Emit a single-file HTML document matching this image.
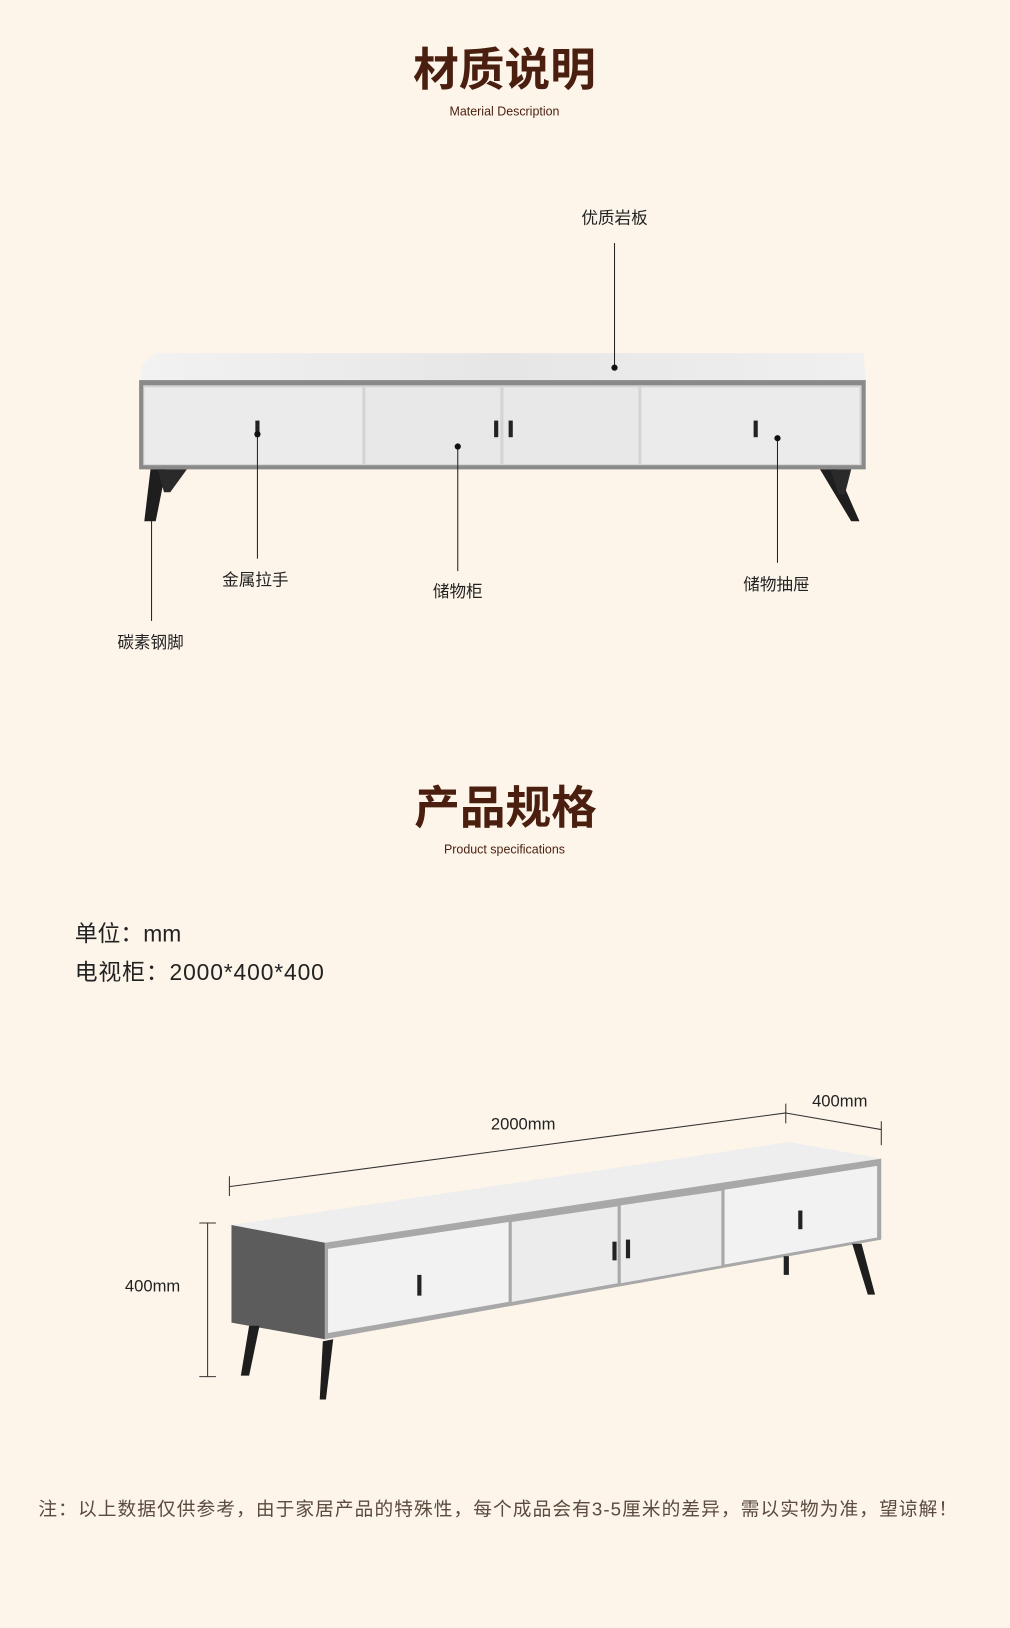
<!DOCTYPE html>
<html><head><meta charset="utf-8"><style>
html,body{margin:0;padding:0;background:#fdf5ea;}
svg{display:block}
text{font-family:"Liberation Sans","Noto Sans CJK SC",sans-serif;}
</style></head><body>
<svg width="1010" height="1628" viewBox="0 0 973 1568" xmlns="http://www.w3.org/2000/svg">
<rect width="973" height="1568" fill="#fdf5ea"/>
<defs>
<linearGradient id="top" x1="0" y1="0" x2="1" y2="0"><stop offset="0" stop-color="#f2f2f2"/><stop offset="0.5" stop-color="#e6e6e6"/><stop offset="1" stop-color="#f0f0f0"/></linearGradient>
</defs>
<text x="486" y="82" text-anchor="middle" font-size="44" font-weight="bold" fill="#4a1f0f">材质说明</text>
<text x="486" y="111" text-anchor="middle" font-size="12" fill="#4a1f0f">Material Description</text>

<polygon points="137,351 150,340 832,340 834,367 135,367" fill="url(#top)"/>
<rect x="134" y="366" width="700" height="86" fill="#8a8a8a"/>
<rect x="138" y="371" width="692" height="77" fill="#d4d4d4"/>
<rect x="139" y="373" width="210" height="74" fill="#ebebeb"/>
<rect x="352" y="373" width="130" height="74" fill="#e8e8e8"/>
<rect x="485" y="373" width="130" height="74" fill="#e8e8e8"/>
<rect x="618" y="373" width="210" height="74" fill="#ebebeb"/>
<rect x="246" y="405" width="4" height="16" fill="#222"/>
<rect x="476" y="405" width="4" height="16" fill="#222"/>
<rect x="490" y="405" width="4" height="16" fill="#222"/>
<rect x="726" y="405" width="4" height="16" fill="#222"/>
<polygon points="145,452 160,452 150,502 139,502" fill="#1e1e1e"/>
<polygon points="152,452 180,452 164,474 158,474" fill="#2a2a2a"/>
<polygon points="790,452 806,452 828,502 820,502" fill="#1e1e1e"/>
<polygon points="800,452 820,452 814,476 808,476" fill="#2a2a2a"/>
<g stroke="#222" stroke-width="1">
<line x1="592" y1="234" x2="592" y2="354"/>
<line x1="248" y1="418" x2="248" y2="538"/>
<line x1="441" y1="430" x2="441" y2="550"/>
<line x1="749" y1="422" x2="749" y2="542"/>
<line x1="146" y1="500" x2="146" y2="598"/>
</g>
<g fill="#111"><circle cx="592" cy="354" r="3"/><circle cx="248" cy="418" r="3"/><circle cx="441" cy="430" r="3"/><circle cx="749" cy="422" r="3"/></g>
<g font-size="16" fill="#222" text-anchor="middle">
<text x="592" y="215">优质岩板</text>
<text x="246" y="564">金属拉手</text>
<text x="441" y="575">储物柜</text>
<text x="748" y="568">储物抽屉</text>
<text x="145" y="624">碳素钢脚</text>
</g>

<text x="487" y="793" text-anchor="middle" font-size="44" font-weight="bold" fill="#4a1f0f">产品规格</text>
<text x="486" y="822" text-anchor="middle" font-size="12" fill="#4a1f0f">Product specifications</text>
<text x="72" y="907" font-size="22" fill="#222">单位：mm</text>
<text x="72" y="944" font-size="22" fill="#222" textLength="240">电视柜：2000*400*400</text>

<polygon points="223,1180 760,1100 849,1116 313,1197" fill="#eeeeee"/>
<polygon points="223,1180 313,1197 313,1290 223,1274" fill="#5c5c5c"/>
<polygon points="313,1197 849,1116 849,1194 313,1290" fill="#a8a8a8"/>
<polygon points="316,1203 490,1177 490,1254 316,1284" fill="#f2f2f2"/>
<polygon points="493,1177 595,1162 595,1236 493,1254" fill="#ececec"/>
<polygon points="598,1161 695,1147 695,1219 598,1236" fill="#ececec"/>
<polygon points="698,1146 845,1123 845,1192 698,1218" fill="#f2f2f2"/>
<rect x="402" y="1228" width="4" height="20" fill="#222"/>
<rect x="590" y="1196" width="4" height="18" fill="#222"/>
<rect x="603" y="1194" width="4" height="18" fill="#222"/>
<rect x="769" y="1166" width="4" height="18" fill="#222"/>
<polygon points="240,1277 250,1277 240,1325 232,1325" fill="#1e1e1e"/>
<polygon points="311,1292 321,1290 314,1348 308,1348" fill="#1e1e1e"/>
<polygon points="821,1198 830,1198 843,1247 836,1247" fill="#1e1e1e"/>
<rect x="755" y="1210" width="5" height="18" fill="#222"/>
<g stroke="#333" stroke-width="1" fill="none">
<line x1="221" y1="1143" x2="757" y2="1072"/>
<line x1="221" y1="1133" x2="221" y2="1152"/>
<line x1="757" y1="1063" x2="757" y2="1082"/>
<line x1="757" y1="1072" x2="849" y2="1088"/>
<line x1="849" y1="1080" x2="849" y2="1103"/>
<line x1="200" y1="1178" x2="200" y2="1326"/>
<line x1="192" y1="1178" x2="208" y2="1178"/>
<line x1="192" y1="1326" x2="208" y2="1326"/>
</g>
<g font-size="16" fill="#222">
<text x="504" y="1088" text-anchor="middle">2000mm</text>
<text x="809" y="1066" text-anchor="middle">400mm</text>
<text x="147" y="1244" text-anchor="middle">400mm</text>
</g>
<text x="37" y="1460" font-size="18" fill="#5a4a40" textLength="885" lengthAdjust="spacing">注：以上数据仅供参考，由于家居产品的特殊性，每个成品会有3-5厘米的差异，需以实物为准，望谅解！</text>
</svg>
</body></html>
